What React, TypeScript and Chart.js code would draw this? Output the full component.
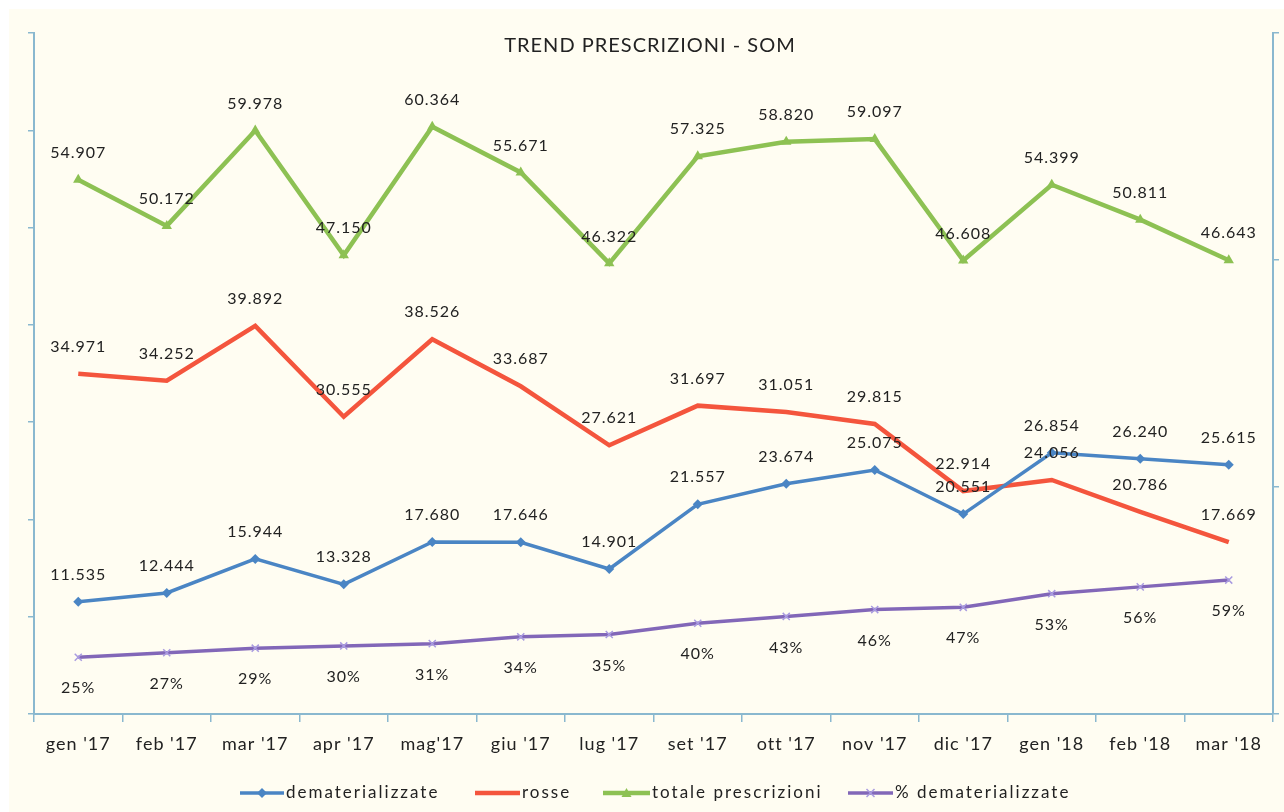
import React, { useEffect, useRef } from "react";
import { Chart, registerables } from "chart.js";

Chart.register(...registerables);

const categories = ["gen '17", "feb '17", "mar '17", "apr '17", "mag'17", "giu '17", "lug '17", "set '17", "ott '17", "nov '17", "dic '17", "gen '18", "feb '18", "mar '18"];
const dematerializzate = [11535, 12444, 15944, 13328, 17680, 17646, 14901, 21557, 23674, 25075, 20551, 26854, 26240, 25615];
const rosse = [34971, 34252, 39892, 30555, 38526, 33687, 27621, 31697, 31051, 29815, 22914, 24056, 20786, 17669];
const totale = [54907, 50172, 59978, 47150, 60364, 55671, 46322, 57325, 58820, 59097, 46608, 54399, 50811, 46643];
const percentuale = [0.25, 0.27, 0.29, 0.30, 0.31, 0.34, 0.35, 0.40, 0.43, 0.46, 0.47, 0.53, 0.56, 0.59];
const seriesNames = ["dematerializzate", "rosse", "totale prescrizioni", "% dematerializzate"];
const titleText = "TREND PRESCRIZIONI - SOM";

const BLUE = "#4a85c4";
const RED = "#f4553d";
const GREEN = "#8dc153";
const PURPLE = "#8267b8";
const AXIS = "#8ab8cf";
const BG = "#fffdf2";
const FONT = "Lato, 'Open Sans', sans-serif";

const fmtThousands = (v: number) => String(v).replace(/\B(?=(\d{3})+(?!\d))/g, ".");
const fmtPct = (v: number) => Math.round(v * 100) + "%";

const bgPlugin = {
  id: "bgPlugin",
  beforeDraw(chart: any) {
    const ctx = chart.ctx;
    ctx.letterSpacing = "1px";
    ctx.save();
    ctx.fillStyle = "#ffffff";
    ctx.fillRect(0, 0, chart.width, chart.height);
    ctx.fillStyle = BG;
    ctx.fillRect(9, 9, chart.width - 9, chart.height - 9);
    ctx.restore();
  },
};

const labelPlugin = {
  id: "labelPlugin",
  afterDatasetsDraw(chart: any) {
    const ctx = chart.ctx;
    ctx.save();
    ctx.letterSpacing = "1px";
    ctx.font = `16px ${FONT}`;
    ctx.fillStyle = "#222222";
    ctx.textAlign = "center";
    ctx.textBaseline = "middle";
    chart.data.datasets.forEach((ds: any, di: number) => {
      const meta = chart.getDatasetMeta(di);
      meta.data.forEach((pt: any, i: number) => {
        const v = ds.data[i];
        if (ds.yAxisID === "y1") {
          ctx.fillText(fmtPct(v), pt.x, pt.y + 31);
        } else {
          ctx.fillText(fmtThousands(v), pt.x, pt.y - 27);
        }
      });
    });
    ctx.font = `20px ${FONT}`;
    ctx.fillStyle = "#222222";
    ctx.fillText(titleText, 650, 46);
    ctx.restore();
  },
};

const legendItems = [
  { lineX: 240, textX: 286 },
  { lineX: 475, textX: 522 },
  { lineX: 603, textX: 652 },
  { lineX: 848, textX: 895 },
];

const legendPlugin = {
  id: "legendPlugin",
  afterDraw(chart: any) {
    const ctx = chart.ctx;
    ctx.save();
    ctx.font = `17px ${FONT}`;
    ctx.letterSpacing = "2px";
    ctx.textBaseline = "middle";
    ctx.textAlign = "left";
    const y = 793;
    chart.data.datasets.forEach((ds: any, di: number) => {
      const x0 = legendItems[di].lineX;
      const x1 = legendItems[di].textX - 2;
      ctx.strokeStyle = ds.borderColor;
      ctx.lineWidth = ds.borderWidth;
      ctx.beginPath();
      ctx.moveTo(x0, y);
      ctx.lineTo(x1, y);
      ctx.stroke();
      const mx = (x0 + x1) / 2;
      ctx.fillStyle = ds.borderColor;
      ctx.lineWidth = 1.5;
      if (ds.pointStyle === "rectRot") {
        ctx.beginPath();
        ctx.moveTo(mx, y - 5);
        ctx.lineTo(mx + 5, y);
        ctx.lineTo(mx, y + 5);
        ctx.lineTo(mx - 5, y);
        ctx.closePath();
        ctx.fill();
      } else if (ds.pointStyle === "triangle") {
        ctx.beginPath();
        ctx.moveTo(mx, y - 5);
        ctx.lineTo(mx + 5, y + 4);
        ctx.lineTo(mx - 5, y + 4);
        ctx.closePath();
        ctx.fill();
      } else if (ds.pointStyle === "crossRot") {
        ctx.strokeStyle = "#a99be0";
        ctx.beginPath();
        ctx.moveTo(mx - 4, y - 4);
        ctx.lineTo(mx + 4, y + 4);
        ctx.moveTo(mx + 4, y - 4);
        ctx.lineTo(mx - 4, y + 4);
        ctx.stroke();
      }
      ctx.fillStyle = "#222222";
      ctx.fillText(ds.label, legendItems[di].textX, y);
    });
    ctx.restore();
  },
};

export default function App() {
  const ref = useRef<HTMLCanvasElement | null>(null);
  useEffect(() => {
    if (!ref.current) return;
    const chart = new Chart(ref.current, {
      type: "line",
      data: {
        labels: categories,
        datasets: [
          {
            label: seriesNames[0],
            data: dematerializzate,
            borderColor: BLUE,
            backgroundColor: BLUE,
            borderWidth: 3.5,
            pointStyle: "rectRot",
            pointRadius: 5,
            pointBorderWidth: 0,
            yAxisID: "y",
            tension: 0,
          },
          {
            label: seriesNames[1],
            data: rosse,
            borderColor: RED,
            backgroundColor: RED,
            borderWidth: 4.5,
            pointStyle: "circle",
            pointRadius: 0,
            yAxisID: "y",
            tension: 0,
          },
          {
            label: seriesNames[2],
            data: totale,
            borderColor: GREEN,
            backgroundColor: GREEN,
            borderWidth: 4.5,
            pointStyle: "triangle",
            pointRadius: 6,
            pointBorderWidth: 0,
            yAxisID: "y",
            tension: 0,
          },
          {
            label: seriesNames[3],
            data: percentuale,
            borderColor: PURPLE,
            backgroundColor: PURPLE,
            borderWidth: 3.5,
            pointStyle: "crossRot",
            pointRadius: 5,
            pointBorderWidth: 1.5,
            pointBorderColor: "#a99be0",
            yAxisID: "y1",
            tension: 0,
          },
        ],
      },
      options: {
        responsive: false,
        animation: false,
        layout: { padding: { left: 8, right: 3, top: 33, bottom: 0 } },
        plugins: {
          legend: { display: false },
          title: { display: false },
          tooltip: { enabled: false },
        },
        scales: {
          x: {
            offset: true,
            grid: {
              offset: true,
              drawOnChartArea: false,
              drawTicks: true,
              tickLength: 8,
              color: AXIS,
              lineWidth: 1.5,
            },
            border: { display: true, color: AXIS, width: 2 },
            ticks: {
              font: { family: FONT, size: 18 },
              color: "#222222",
              padding: 11,
              maxRotation: 0,
              autoSkip: false,
            },
            afterFit: (s: any) => {
              s.height = 98;
            },
          },
          y: {
            position: "left",
            min: 0,
            max: 70000,
            ticks: { display: false, stepSize: 10000 },
            grid: {
              drawOnChartArea: false,
              drawTicks: true,
              tickLength: 6,
              color: AXIS,
              lineWidth: 1.5,
            },
            border: { display: true, color: AXIS, width: 2 },
            afterFit: (s: any) => {
              s.width = 26;
            },
          },
          y1: {
            position: "right",
            min: 0,
            max: 3,
            ticks: { display: false, stepSize: 1 },
            grid: {
              drawOnChartArea: false,
              drawTicks: true,
              tickLength: 6,
              color: AXIS,
              lineWidth: 1.5,
            },
            border: { display: true, color: AXIS, width: 2 },
            afterFit: (s: any) => {
              s.width = 8;
            },
          },
        },
      },
      plugins: [bgPlugin, labelPlugin, legendPlugin],
    } as any);
    return () => chart.destroy();
  }, []);
  return (
    <div style={{ position: "fixed", left: 0, top: 0, width: 1284, height: 812, background: "#fff" }}>
      <canvas ref={ref} width={1284} height={812} style={{ display: "block", width: 1284, height: 812 }} />
    </div>
  );
}
